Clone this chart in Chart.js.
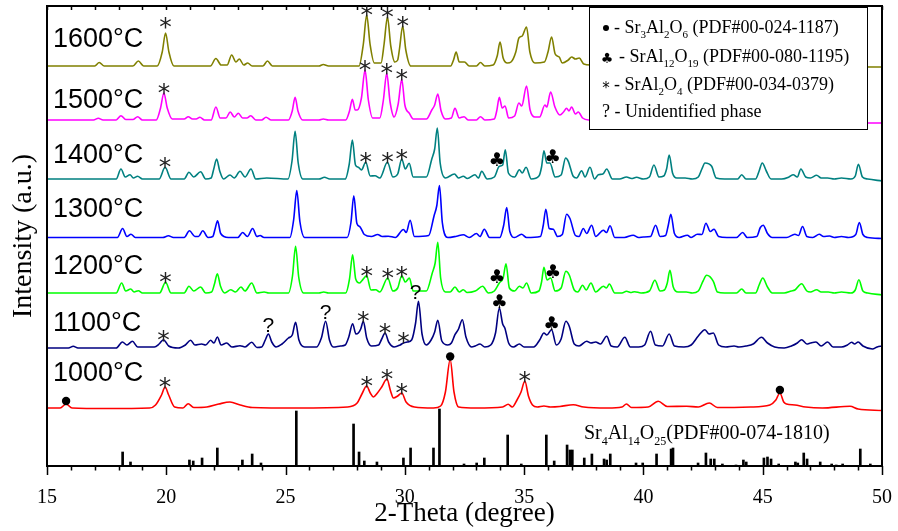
<!DOCTYPE html>
<html lang="en">
<head>
<meta charset="UTF-8">
<title>XRD patterns vs. sintering temperature</title>
<script src="https://cdn.jsdelivr.net/npm/chart.js"></script>
<style>
  body { margin: 0; background: #fff; }
  #wrap { width: 898px; height: 531px; position: relative; }
</style>
</head>
<body>
<div id="wrap"><canvas id="xrd"></canvas></div>
<script>
// 2-theta window and tick labels
const thetaMin = 15, thetaMax = 50;
const thetaStep = 5;

// one pattern per temperature, stacked from bottom to top
const temps = ['1000°C', '1100°C', '1200°C', '1300°C', '1400°C', '1500°C', '1600°C'];
const offsets = [58, 118, 173, 228.5, 287, 346, 400];

// [2-theta, intensity above baseline]
const p1000 = [[15,0],[15.55,0],[15.8,4],[16.05,0],[17.5,-0.5],[19.3,0],[19.55,3],[19.8,13],[19.95,21],[20.1,13],[20.35,1],[20.7,0],[20.92,4.3],[21.15,0.5],[21.7,1],[22.2,4],[22.67,6],[23.1,3],[23.6,0.5],[25.5,0],[27.6,1],[28.0,5],[28.2,14],[28.4,22],[28.55,15],[28.68,11],[28.85,15],[29.03,21],[29.25,29],[29.4,17],[29.52,10],[29.7,12],[29.87,15],[30.05,6],[30.4,1],[31.2,0],[31.5,2],[31.7,16],[31.9,48.5],[32.06,16],[32.25,1],[33.0,0],[34.1,1],[34.33,3.7],[34.5,1],[34.7,8],[34.87,16],[35.03,27],[35.18,12],[35.35,3],[35.55,1],[35.83,2],[36.1,1],[36.5,1.5],[37.06,3.3],[37.5,1],[38.5,0],[39.1,1],[39.29,4],[39.5,0.5],[40.2,1],[40.62,6.7],[41.0,1.5],[41.81,1.7],[42.3,1],[42.76,5],[43.1,0.5],[44.5,1],[45.3,3],[45.55,8],[45.72,15],[45.88,6],[46.0,4],[46.35,3],[46.8,1],[47.5,0],[48.66,1.7],[49.0,-1],[50,-2.5]];
const p1100 = [[15,0],[15.9,0],[16.1,1.7],[16.3,0],[17.9,0],[18.16,6],[18.35,3],[18.58,6.7],[18.8,1],[19.5,1],[19.7,4],[19.88,8.3],[20.1,2],[20.5,0],[20.8,3],[21.02,7.7],[21.2,3],[21.48,4],[21.65,3],[21.86,7.7],[22.0,5],[22.14,11],[22.3,3],[22.53,5],[22.75,1],[23.09,2.3],[23.3,1],[23.58,5.7],[23.8,0.5],[24.0,1],[24.15,8],[24.28,14],[24.42,6],[24.6,1],[24.85,4],[25.12,10],[25.28,13],[25.42,25.7],[25.56,8],[25.8,1],[26.3,1],[26.5,10],[26.68,26.7],[26.84,8],[27.0,1],[27.3,2],[27.5,3],[27.65,11],[27.81,24.3],[27.95,14],[28.05,15],[28.15,19],[28.26,26.7],[28.4,10],[28.6,2],[28.9,3],[29.03,9],[29.17,15],[29.32,6],[29.55,1],[29.8,3],[29.94,5],[30.1,6],[30.29,8.3],[30.45,25],[30.57,46.7],[30.72,14],[30.9,3],[31.1,8],[31.25,16],[31.38,27.7],[31.55,7],[31.8,3],[31.95,5],[32.1,13.3],[32.25,19],[32.41,28.3],[32.56,11],[32.8,1],[32.95,2],[33.15,4],[33.35,1],[33.6,3],[33.8,15],[33.96,40],[34.1,24],[34.19,20],[34.35,5],[34.55,1],[34.8,4],[35.0,1],[35.4,1],[35.65,8],[35.83,15],[35.95,13],[36.15,18.3],[36.35,3],[36.55,9],[36.75,26.7],[36.89,21.7],[37.1,4],[37.3,2],[37.62,6.7],[37.8,5],[38.0,6],[38.2,4],[38.46,11.7],[38.65,2],[38.9,1],[39.22,10.7],[39.45,1],[39.8,1],[40.05,3],[40.3,16.7],[40.5,3],[40.8,2],[41.08,14],[41.3,2],[41.7,1],[42.0,3],[42.3,12],[42.58,18.3],[42.75,14],[42.93,15],[43.15,3],[43.45,1],[43.8,2],[44.0,1],[44.3,2],[44.6,4],[44.95,10.7],[45.2,5],[45.5,1],[45.9,0],[46.2,2],[46.45,5],[46.63,8.3],[46.85,4],[47.0,5],[47.23,6],[47.45,2],[47.72,6],[47.95,1],[48.3,1],[48.55,3],[48.73,5.7],[48.85,4],[49.0,6],[49.2,2],[49.6,-1],[49.8,1],[50,2]];
const p1200 = [[15,0],[17.9,0],[18.13,10],[18.3,2],[18.51,4],[18.65,1],[18.83,2.3],[19.0,0],[19.72,0],[19.97,10.7],[20.2,0],[20.75,0],[20.95,6.7],[21.15,2],[21.44,6],[21.65,0],[21.9,1],[22.02,9],[22.14,19.3],[22.27,7],[22.45,0],[22.7,3.3],[22.9,1],[23.13,6],[23.3,2],[23.58,10],[23.8,0],[24.1,1],[24.3,0],[25.12,0],[25.29,17],[25.42,46.7],[25.55,16],[25.75,0],[26.4,0],[26.6,1],[26.8,0],[27.52,0],[27.68,14],[27.81,38.3],[27.94,14],[28.1,10],[28.19,12],[28.4,17.3],[28.58,3],[28.78,3.3],[28.95,1],[29.28,15],[29.5,2],[29.7,5],[29.87,17.3],[30.02,11],[30.19,15],[30.35,2],[30.9,2],[31.15,20],[31.27,30],[31.38,50.7],[31.5,15],[31.7,1],[31.9,1],[32.1,6],[32.28,1],[32.45,3.3],[32.6,0.5],[32.95,2],[33.26,6.7],[33.5,0],[33.75,2],[33.96,10],[34.12,15],[34.24,29.3],[34.38,5],[34.6,2],[34.8,6.7],[34.95,5],[35.1,10],[35.3,0],[35.62,2],[35.73,11],[35.83,25.7],[35.96,13],[36.11,15],[36.3,2],[36.55,5],[36.75,21.7],[36.89,18],[37.1,3],[37.25,1],[37.45,7.7],[37.6,3],[37.8,10],[38.0,1],[38.32,6.7],[38.45,5],[38.57,9],[38.8,0],[39.1,0],[39.29,1.7],[39.5,0.5],[39.63,1.3],[39.9,0],[40.25,2],[40.48,12.7],[40.7,2],[40.88,3],[41.0,10],[41.11,22.7],[41.25,6],[41.45,1],[41.8,1],[42.05,0],[42.3,2],[42.5,12],[42.65,17.7],[42.93,11.7],[43.1,1],[43.4,0],[43.9,0],[44.12,4],[44.3,0],[44.7,0],[44.85,8],[45.0,15],[45.2,6],[45.4,0],[45.9,0],[46.2,2],[46.35,3],[46.63,9.3],[46.85,2],[47.0,1],[47.26,3.3],[47.45,1],[47.75,1],[48.0,0],[48.3,1],[48.7,0],[48.88,3],[49.03,13.3],[49.2,2],[49.4,0],[50,-2]];
const p1300 = [[15,0],[17.95,0],[18.17,9],[18.35,1],[18.52,3.3],[18.7,0],[19.85,0],[20.09,1.7],[20.3,0],[20.75,0],[20.97,6.7],[21.2,1],[21.35,1],[21.53,6.7],[21.75,0],[21.95,1],[22.04,8],[22.15,16.7],[22.28,4],[22.6,0],[23.0,0],[23.2,5],[23.4,1],[23.62,9],[23.8,1],[23.93,2],[24.1,0],[25.18,0],[25.34,18],[25.47,47],[25.6,16],[25.8,0],[27.58,0],[27.74,15],[27.86,41.7],[27.99,14],[28.12,10.7],[28.3,3],[28.6,1],[28.86,3],[29.05,1],[29.31,1.3],[29.6,0],[29.94,8],[30.06,5],[30.22,17.3],[30.4,1],[31.0,2],[31.22,21.3],[31.34,32],[31.45,52],[31.57,15],[31.8,0],[32.17,1.3],[32.45,2.7],[32.7,0],[33.0,4],[33.15,1],[33.33,8.3],[33.55,0],[33.98,0],[34.14,12],[34.27,30],[34.4,6],[34.6,0],[34.89,3.3],[35.1,0],[35.68,1],[35.8,12],[35.91,28.3],[36.05,9],[36.22,8.3],[36.4,1],[36.6,3],[36.78,23.3],[36.92,19],[37.15,2],[37.3,1],[37.48,9],[37.62,4],[37.83,12.3],[38.0,1],[38.32,7.3],[38.45,5],[38.6,11.7],[38.8,0],[39.2,0],[39.57,2.3],[39.8,0],[40.0,0.5],[40.3,1],[40.51,12.3],[40.7,1],[40.93,2],[41.04,12],[41.15,23.3],[41.3,4],[41.5,0],[41.84,2.3],[42.0,0],[42.26,3.3],[42.45,3],[42.62,14.3],[42.8,6],[42.96,8.3],[43.15,1],[43.5,0],[43.9,0],[44.16,5],[44.35,0],[44.75,1],[44.9,10],[45.02,12.3],[45.2,4],[45.4,0],[46.0,0],[46.35,3.3],[46.5,2],[46.67,11],[46.85,1],[47.1,0],[47.37,3.3],[47.55,1],[47.8,1.5],[48.0,0],[48.3,1],[48.6,0],[48.9,3],[49.05,15],[49.2,3],[49.4,0],[50,-1]];
const p1400 = [[15,0],[17.9,0],[18.1,10],[18.28,2],[18.48,4.3],[18.62,1],[18.8,2.7],[19.0,0],[19.7,0],[19.95,11.7],[20.2,0],[20.75,0],[20.95,6.7],[21.15,2],[21.44,7.3],[21.65,0],[21.88,1],[21.99,10],[22.11,20],[22.24,8],[22.4,0],[22.67,4],[22.85,1],[23.09,7.7],[23.3,2],[23.55,10],[23.75,0],[24.21,1],[25.1,0],[25.27,18],[25.4,47.7],[25.53,16],[25.72,0],[26.4,0],[26.63,1.7],[26.85,0],[27.5,0],[27.67,15],[27.8,39],[27.93,14],[28.05,11.7],[28.18,9],[28.36,16.7],[28.55,3],[28.75,3.3],[28.95,1],[29.27,16.7],[29.5,2],[29.7,5],[29.87,20],[30.02,10],[30.18,15.7],[30.35,2],[30.9,2],[31.13,20],[31.25,30],[31.36,51],[31.48,16],[31.7,1],[32.08,5],[32.25,1],[32.45,2.7],[32.62,0.5],[32.94,4.3],[33.08,1],[33.22,7.7],[33.45,0],[33.75,2],[33.96,12.7],[34.1,14],[34.21,29.3],[34.34,6],[34.6,2],[34.8,9.3],[34.92,6],[35.08,11.7],[35.3,0],[35.62,3],[35.73,12],[35.83,28.3],[35.95,16],[36.08,16],[36.3,2],[36.55,4],[36.74,21],[36.85,17.7],[37.05,3],[37.2,1],[37.41,8.3],[37.55,2],[37.76,11.7],[37.95,0],[38.11,4.3],[38.3,5],[38.46,10],[38.7,0],[39.0,0],[39.29,2],[39.5,0.5],[39.71,1.7],[40.0,0],[40.25,2],[40.44,14],[40.65,2],[40.85,3],[40.97,10],[41.08,24],[41.22,6],[41.4,1],[41.75,1],[42.05,0],[42.3,2],[42.45,10],[42.58,16],[42.86,12.7],[43.05,1],[43.4,0],[43.95,0],[44.12,4.3],[44.3,0],[44.7,0],[44.85,8],[44.98,16],[45.15,8],[45.35,0],[45.8,0],[46.1,2],[46.28,4.3],[46.45,2],[46.6,10],[46.8,2],[47.0,1],[47.26,3.7],[47.45,1],[47.72,1],[48.0,0],[48.3,1],[48.7,0],[48.88,3],[49.01,14.7],[49.18,2],[49.4,0],[50,-2]];
const p1500 = [[15,0],[16.95,0],[17.15,1.7],[17.35,0],[17.9,0],[18.1,4.3],[18.3,0.5],[18.6,0.5],[18.8,3.3],[19.0,0],[19.58,0],[19.76,12],[19.9,27],[20.04,12],[20.25,1],[20.75,1],[20.92,3.3],[21.1,1],[21.25,1],[21.41,2.7],[21.6,0],[21.88,0],[22.08,13],[22.26,2],[22.5,2],[22.68,8],[22.85,3],[23.02,6.7],[23.2,2],[23.38,2],[23.54,4.3],[23.75,0],[24.0,0],[24.18,2.7],[24.4,0],[25.12,0],[25.28,9],[25.4,22.7],[25.52,9],[25.72,0],[26.4,0],[26.58,1],[26.8,0],[27.52,0],[27.68,9],[27.8,20.7],[27.92,10],[28.01,10],[28.18,22],[28.33,50],[28.47,20],[28.65,2],[28.95,2],[29.1,20],[29.24,46.7],[29.38,18],[29.55,3],[29.72,16],[29.87,40.7],[30.0,15],[30.19,6.7],[30.35,1],[30.9,1],[31.13,10],[31.25,15],[31.38,26],[31.52,9],[31.7,1],[31.95,2],[32.1,11.7],[32.28,2],[32.48,3.3],[32.65,0],[33.0,0],[33.17,3.3],[33.35,0],[33.75,1],[33.85,9],[33.96,22.7],[34.08,12],[34.2,14],[34.35,2],[34.6,4],[34.78,17],[34.9,14],[35.1,34],[35.25,10],[35.45,3],[35.65,3],[35.87,15],[35.95,13],[36.11,28],[36.29,13],[36.5,5],[36.65,8],[36.78,11.7],[36.88,9],[36.99,13],[37.15,6],[37.27,8],[37.45,2],[37.7,0],[50,-3]];
const p1600 = [[15,0],[17.0,0],[17.19,3.5],[17.4,0],[18.6,0],[18.83,5],[19.05,0],[19.62,0],[19.83,14],[19.97,33],[20.11,14],[20.32,0],[21.85,0],[22.08,7.5],[22.3,1],[22.55,1],[22.74,11],[22.92,4],[23.06,7],[23.25,1],[23.41,3],[23.6,0],[24.05,0],[24.24,5],[24.45,0],[26.4,0],[26.58,1.5],[26.8,0],[28.08,0],[28.26,22],[28.4,51],[28.54,22],[28.72,3],[29.0,3],[29.13,22],[29.27,49],[29.41,20],[29.58,4],[29.7,6],[29.78,18],[29.91,40],[30.04,16],[30.25,0],[31.92,0],[32.04,6],[32.15,14],[32.28,4],[32.5,4],[32.7,0],[33.0,0],[33.17,3.5],[33.35,0],[33.7,1],[33.87,10],[33.99,24],[34.12,8],[34.3,3],[34.45,4],[34.65,14],[34.78,28],[34.92,30],[35.1,39],[35.24,14],[35.45,3],[35.85,4],[36.0,14],[36.15,29],[36.3,12],[36.47,9],[36.6,3],[36.85,6],[36.99,9],[37.15,7],[37.31,8],[37.5,2],[37.8,1],[50,-1]];
const patterns = [p1000, p1100, p1200, p1300, p1400, p1500, p1600];

// Sr4Al14O25 reference lines, [2-theta, relative intensity]
const refLines = [[18.17,14],[18.5,4],[20.97,6],[21.13,5],[21.5,8],[22.14,18],[23.19,6],[23.6,12],[23.97,3],[25.45,55],[27.85,42],[28.08,14],[28.3,5],[28.83,4],[29.94,8],[30.24,18],[31.2,18],[31.45,57],[32.48,2],[33.01,3],[33.33,8],[34.31,31],[34.88,2],[35.93,31],[36.26,5],[36.8,21],[36.92,16],[37.02,16],[37.52,8],[37.84,12],[38.35,7],[38.46,6],[38.61,12],[39.69,3],[39.97,3],[40.55,12],[41.16,17],[41.24,18],[42.29,3],[42.62,13],[42.82,7],[42.97,7],[43.31,2],[43.88,1],[44.19,6],[44.31,4],[45.05,8],[45.2,9],[45.35,7],[45.67,2],[46.37,4],[46.47,3],[46.72,13],[46.86,7],[47.41,4],[47.89,2],[48.08,1],[48.35,2],[49.09,17],[49.51,2]];

// phase markers: [pattern, 2-theta]
const markSrAl2O4 = [['1600°C',19.97],['1600°C',28.4],['1600°C',29.27],['1600°C',29.91],['1500°C',19.9],['1500°C',28.33],['1500°C',29.24],['1500°C',29.87],['1400°C',19.95],['1400°C',28.36],['1400°C',29.27],['1400°C',29.87],['1200°C',19.97],['1200°C',28.4],['1200°C',29.28],['1200°C',29.87],['1100°C',19.88],['1100°C',28.26],['1100°C',29.17],['1100°C',29.94],['1000°C',19.95],['1000°C',28.4],['1000°C',29.25],['1000°C',29.87],['1000°C',35.03]];
const markSrAl12O19 = [['1400°C',33.85],['1400°C',36.19],['1200°C',33.85],['1200°C',36.2],['1100°C',33.96],['1100°C',36.15]];
const markSr3Al2O6 = [['1000°C',15.8],['1000°C',31.9],['1000°C',45.72]];
const markUnknown = [['1100°C',24.28],['1100°C',26.68],['1100°C',30.45]];

const lineColors = ['#ff0000', '#000080', '#00ff00', '#0000ff', '#008080', '#ff00ff', '#808000'];
const SERIF = '"Liberation Serif", "Times New Roman", serif';
const SANS = '"Liberation Sans", Arial, sans-serif';

const datasets = patterns.map((pts, i) => ({
    label: temps[i],
    data: pts.map(([t, v]) => ({ x: t, y: v + offsets[i] })),
    borderColor: lineColors[i],
    borderWidth: 1.6,
    pointRadius: 0,
    fill: false,
    cubicInterpolationMode: 'monotone'
}));
datasets.push({
    type: 'bar',
    label: 'Sr4Al14O25',
    data: refLines.map(([t, v]) => ({ x: t, y: v })),
    backgroundColor: '#000',
    barThickness: 2,
    grouped: false
});

function peakPixel(chart, name, theta) {
    const pts = chart.data.datasets[temps.indexOf(name)].data;
    let top = -Infinity;
    pts.forEach(p => { if (Math.abs(p.x - theta) <= 0.2 && p.y > top) top = p.y; });
    return chart.scales.y.getPixelForValue(top);
}

function glyph(ctx, sym, x, bottom, font) {
    ctx.font = font;
    const m = ctx.measureText(sym);
    ctx.textAlign = 'center';
    ctx.textBaseline = 'alphabetic';
    ctx.fillText(sym, x, bottom - m.actualBoundingBoxDescent);
}

// text with chemical subscripts: parts alternate normal / subscript
function formula(ctx, x, y, parts, size) {
    parts.forEach(([txt, sub]) => {
        ctx.font = (sub ? Math.round(size * 0.62) : size) + 'px ' + SERIF;
        ctx.fillText(txt, x, sub ? y + size * 0.3 : y);
        x += ctx.measureText(txt).width;
    });
}

const decor = {
    id: 'decor',
    afterDatasetsDraw(chart) {
        const { ctx, chartArea: a, scales: { x } } = chart;
        ctx.save();
        ctx.fillStyle = '#000';
        ctx.strokeStyle = '#000';

        // frame
        ctx.lineWidth = 2;
        ctx.strokeRect(a.left, a.top, a.right - a.left, a.bottom - a.top);

        // minor/major ticks: out at the bottom, in at the top
        ctx.lineWidth = 1.5;
        ctx.beginPath();
        for (let t = thetaMin; t <= thetaMax; t++) {
            const px = Math.round(x.getPixelForValue(t)) + 0.5;
            const len = t % thetaStep === 0 ? 9 : 4.5;
            ctx.moveTo(px, a.bottom); ctx.lineTo(px, a.bottom + len);
            ctx.moveTo(px, a.top); ctx.lineTo(px, a.top + 4);
        }
        ctx.stroke();

        // temperature labels
        const labelY = [374, 324, 267, 210, 156, 101, 40];
        ctx.font = '27px ' + SANS;
        ctx.textAlign = 'left';
        ctx.textBaseline = 'middle';
        temps.forEach((t, i) => ctx.fillText(t, 53, labelY[i]));

        // phase markers
        ctx.fillStyle = '#222';
        markSrAl2O4.forEach(([s, t]) => glyph(ctx, '*', x.getPixelForValue(t), peakPixel(chart, s, t) + 2, '25px "DejaVu Sans"'));
        ctx.fillStyle = '#000';
        markSrAl12O19.forEach(([s, t]) => glyph(ctx, '\u2663', x.getPixelForValue(t), peakPixel(chart, s, t), '19px "DejaVu Sans"'));
        markUnknown.forEach(([s, t]) => glyph(ctx, '?', x.getPixelForValue(t), peakPixel(chart, s, t) - 2, '21px ' + SANS));
        markSr3Al2O6.forEach(([s, t]) => {
            ctx.beginPath();
            ctx.arc(x.getPixelForValue(t), peakPixel(chart, s, t) - 3, 4.2, 0, Math.PI * 2);
            ctx.fill();
        });

        // reference card label
        ctx.textAlign = 'left';
        ctx.textBaseline = 'alphabetic';
        formula(ctx, 584, 439, [['Sr',0],['4',1],['Al',0],['14',1],['O',0],['25',1],['(PDF#00-074-1810)',0]], 20);

        // legend box
        ctx.fillStyle = '#fff';
        ctx.fillRect(589, 7, 279, 123);
        ctx.lineWidth = 1;
        ctx.strokeRect(589.5, 7.5, 278, 122);
        ctx.fillStyle = '#000';
        ctx.beginPath();
        ctx.arc(606, 28, 3, 0, Math.PI * 2);
        ctx.fill();
        formula(ctx, 614, 33, [['- Sr',0],['3',1],['Al',0],['2',1],['O',0],['6',1],[' (PDF#00-024-1187)',0]], 18);
        glyph(ctx, '\u2663', 607, 63, '14px "DejaVu Sans"');
        ctx.textAlign = 'left';
        formula(ctx, 619, 62, [['- SrAl',0],['12',1],['O',0],['19',1],[' (PDF#00-080-1195)',0]], 18);
        glyph(ctx, '*', 606, 89, '15px "DejaVu Sans"');
        ctx.textAlign = 'left';
        formula(ctx, 614, 90, [['- SrAl',0],['2',1],['O',0],['4',1],[' (PDF#00-034-0379)',0]], 18);
        formula(ctx, 602, 117, [['? - Unidentified phase',0]], 18);
        ctx.restore();
    }
};

new Chart(document.getElementById('xrd'), {
    type: 'line',
    data: { datasets },
    options: {
        responsive: true,
        maintainAspectRatio: false,
        animation: false,
        devicePixelRatio: 1,
        layout: { padding: { top: 6, right: 16, left: 0, bottom: 0 } },
        plugins: { legend: { display: false }, tooltip: { enabled: false } },
        scales: {
            x: {
                type: 'linear',
                min: thetaMin,
                max: thetaMax,
                offset: false,
                afterFit: s => { s.height = 65; s.paddingLeft = 0; s.paddingRight = 0; },
                grid: { display: false, drawTicks: false },
                border: { display: false },
                ticks: { stepSize: thetaStep, padding: 20, maxRotation: 0, color: '#000', font: { family: SERIF, size: 20 } },
                title: { display: true, text: '2-Theta (degree)', color: '#000', font: { family: SERIF, size: 27 }, padding: { top: 0, bottom: 1 } }
            },
            y: {
                min: 0,
                max: 460,
                afterFit: s => { s.width = 47; },
                grid: { display: false, drawTicks: false },
                border: { display: false },
                ticks: { display: false },
                title: { display: true, text: 'Intensity (a.u.)', color: '#000', font: { family: SERIF, size: 28 }, padding: { top: 7, bottom: 0 } }
            }
        }
    },
    plugins: [decor]
});
</script>
</body>
</html>
